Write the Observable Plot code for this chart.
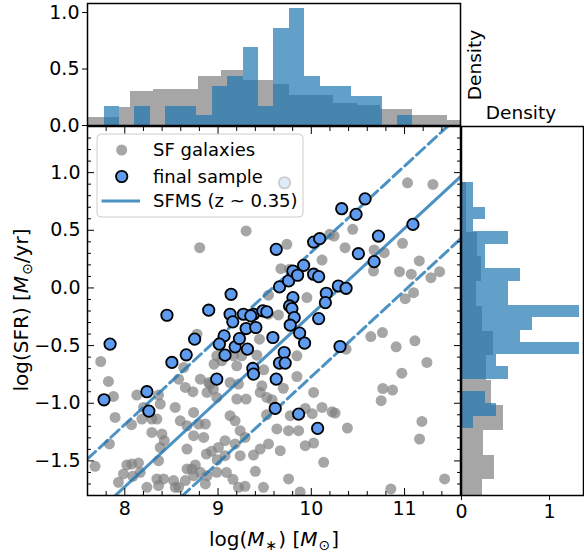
<!DOCTYPE html>
<html><head><meta charset="utf-8">
<script src="https://cdn.jsdelivr.net/npm/d3@7"></script>
<script src="https://cdn.jsdelivr.net/npm/@observablehq/plot@0.6"></script>
<style>
body{margin:0;background:#fff;}
#wrap{position:relative;width:584px;height:553px;overflow:hidden;font-family:"DejaVu Sans",sans-serif;}
#wrap > svg, #wrap > figure{position:absolute;margin:0;}
</style></head><body><div id="wrap"></div>
<script>
// ---------- data ----------
const sfMass = [8.803,7.742,7.825,7.878,7.896,7.835,7.681,8.022,8.075,8.147,7.986,7.932,8.086,8.165,8.129,8.201,8.183,8.290,8.344,8.380,8.362,8.290,8.398,8.423,8.362,8.344,8.362,8.416,8.523,8.541,8.649,8.667,8.720,8.756,8.810,8.631,8.577,8.649,8.541,8.595,8.667,8.738,8.792,8.864,8.738,8.846,8.667,8.380,8.774,8.810,8.900,8.882,8.875,8.882,8.864,8.738,8.577,8.237,8.072,8.730,
9.301,9.738,9.767,9.674,10.115,10.197,9.541,9.953,9.541,9.444,9.416,8.986,8.957,9.040,9.165,9.254,9.201,8.914,8.950,8.986,9.129,9.219,9.201,9.301,9.452,9.470,9.523,9.846,9.846,10.025,9.935,10.115,10.222,9.774,9.756,9.864,9.631,9.129,9.183,9.237,9.290,9.183,9.075,9.004,9.075,9.237,9.380,9.452,9.541,9.667,9.935,10.133,9.756,9.487,9.219,8.986,
9.648,9.490,9.700,9.580,9.520,10.010,10.025,9.880,9.767,8.930,8.990,9.090,9.160,9.290,9.400,
10.244,10.444,10.362,11.032,11.304,10.674,10.782,10.978,10.667,10.946,11.072,11.158,11.283,11.376,11.007,11.097,10.373,10.638,10.763,10.910,11.111,11.240,10.971,10.767,10.871,10.749,10.255,10.387,11.186,11.161,11.430,10.853];
const sfSFR = [0.349,-0.638,-0.811,-0.941,-1.123,-1.353,-1.547,-1.535,-1.527,-1.518,-1.613,-1.686,-1.634,-1.599,-0.929,-1.036,-1.137,-1.137,-1.137,-1.007,-0.929,-1.253,-1.267,-1.325,-1.498,-1.656,-1.714,-1.656,-1.671,-1.729,-1.671,-1.570,-1.570,-1.535,-1.599,-0.690,-0.791,-0.863,-1.036,-1.152,-1.195,-1.080,-1.180,-1.180,-1.281,-1.296,-1.397,-1.383,-0.401,-0.791,-0.820,-0.906,-1.440,-1.628,-1.700,-1.628,-1.729,-1.729,-1.186,-0.900,
0.494,0.378,0.162,0.167,0.242,0.465,-0.063,-0.084,-0.228,-0.444,-0.583,-0.589,-0.661,-0.632,-0.589,-0.589,-0.675,-0.834,-0.877,-0.950,-0.820,-0.834,-0.964,-0.964,-0.906,-0.849,-0.950,-0.589,-0.768,-0.906,-1.045,-1.036,-1.074,-1.108,-1.238,-1.238,-1.223,-1.108,-1.152,-1.238,-1.296,-1.353,-1.325,-1.383,-1.455,-1.455,-1.449,-1.397,-1.353,-1.411,-1.368,-1.512,-1.656,-1.729,-1.729,-1.599,
-0.234,-0.710,-0.870,-0.970,-1.100,-1.090,-1.345,-1.770,0.055,-1.417,-1.490,-1.600,-1.660,-1.720,-1.590,
0.450,0.508,0.349,0.912,0.898,0.329,0.306,0.387,0.147,0.141,0.119,0.234,0.089,0.141,-0.093,-0.041,-0.531,-0.422,-0.387,-0.511,-0.459,-0.646,-0.739,-0.872,-0.886,-0.978,-1.085,-1.215,-1.158,-1.310,-1.656,-1.743];

const finalMass = [7.842,7.777,8.452,8.505,8.659,8.749,8.237,8.258,8.900,
9.140,9.129,9.158,9.065,9.014,9.075,9.183,9.229,9.272,9.301,9.315,9.380,9.351,9.405,9.480,9.523,8.986,9.373,9.380,9.588,9.624,9.613,9.624,9.659,9.710,9.659,9.720,9.756,9.803,9.853,9.918,9.803,9.767,9.792,9.817,9.774,9.875,9.928,10.025,10.090,10.025,10.079,10.161,10.151,10.079,9.864,10.068,
10.326,10.480,10.577,11.090,10.720,10.505,10.674,10.290,10.373,10.308,9.713];
const finalSFR = [-0.487,-0.970,-0.237,-0.646,-0.580,-0.444,-0.900,-1.068,-0.193,
-0.055,-0.228,-0.294,-0.416,-0.487,-0.583,-0.511,-0.439,-0.228,-0.352,-0.531,-0.228,-0.242,-0.343,-0.199,-0.208,-0.791,-0.698,-0.747,-0.430,-0.791,-1.045,0.335,0.009,-0.560,-0.652,-0.652,0.061,0.147,0.110,0.196,-0.084,-0.156,-0.179,-0.257,-0.323,-0.392,-0.479,0.398,0.427,0.119,0.098,-0.046,-0.127,-0.266,-1.094,-1.218,
0.687,0.638,0.773,0.551,0.450,0.297,0.228,0.017,-0.003,-0.508,0.912];

// SFMS (z ~ 0.35) relation and its +/- scatter lines, end points
const sfmsMass  = [7.6, 11.6];
const sfmsSFR   = [-2.023, 0.965];
const sfmsUpper = [-1.483, 1.505];
const sfmsLower = [-2.563, 0.425];

// marginal histograms (density)
const topGrayEdges = [7.595,7.939,8.061,8.304,8.788,9.040,9.272,9.595,9.767,9.997,10.240,10.495,10.742,11.083,11.459,11.602];
const topGrayDens  = [0.068,0.163,0.305,0.316,0.432,0.488,0.400,0.360,0.267,0.266,0.195,0.180,0.139,0.089,0.044];
const topBlueEdges = [7.777,7.943,8.108,8.274,8.440,8.605,8.771,8.937,9.102,9.268,9.434,9.599,9.765,9.931,10.096,10.262,10.428,10.593,10.759,10.925,11.090];
const topBlueDens  = [0.172,0,0.172,0,0.172,0.172,0.086,0.345,0.431,0.690,0.172,0.862,1.035,0.431,0.345,0.345,0.259,0.259,0,0.086];
const rightGrayEdges = [-1.88,-1.665,-1.45,-1.235,-1.02,-0.805,-0.59,-0.375,-0.16,0.055,0.27,0.485,0.70,0.915];
const rightGrayDens  = [0.242,0.375,0.254,0.474,0.340,0.284,0.360,0.242,0.170,0.227,0.178,0.057,0.057];
const rightBlueEdges = [-1.218,-1.111,-1.005,-0.898,-0.792,-0.685,-0.579,-0.472,-0.366,-0.259,-0.153,-0.046,0.060,0.167,0.273,0.380,0.486,0.593,0.699,0.806,0.912];
const rightBlueDens  = [0.134,0.402,0.268,0,0.536,0.402,1.341,0.671,0.805,1.341,0.536,0.536,0.671,0.268,0.268,0.536,0.134,0.268,0.134,0.134];

// ticks and labels
const massTicks = [8, 9, 10, 11];
const sfrTicks = [-1.5, -1.0, -0.5, 0.0, 0.5, 1.0];
const topDensTicks = [0, 0.5, 1.0];
const rightDensTicks = [0, 1];
const legendLabels = ["SF galaxies", "final sample", "SFMS (z ~ 0.35)"];

// ---------- build tables ----------
const sf = sfMass.map((m, i) => ({m, s: sfSFR[i]}));
const fin = finalMass.map((m, i) => ({m, s: finalSFR[i]}));
const sfmsM = sfmsMass.map((m, i) => ({m, s: sfmsSFR[i]}));
const sfmsU = sfmsMass.map((m, i) => ({m, s: sfmsUpper[i]}));
const sfmsL = sfmsMass.map((m, i) => ({m, s: sfmsLower[i]}));
const bins = (edges, dens) => dens.map((d, i) => ({a: edges[i], b: edges[i + 1], d}));
const topGray = bins(topGrayEdges, topGrayDens);
const topBlue = bins(topBlueEdges, topBlueDens).filter(d => d.d > 0);
const rightGray = bins(rightGrayEdges, rightGrayDens);
const rightBlue = bins(rightBlueEdges, rightBlueDens).filter(d => d.d > 0);

const xDomain = [7.6, 11.6];
const yDomain = [-1.8, 1.4];
const minorMass = d3.range(76, 117, 2).map(v => v / 10).filter(v => !massTicks.includes(v));
const minorSFR = d3.range(-18, 15, 1).map(v => v / 10).filter(v => !sfrTicks.some(t => Math.abs(t - v) < 1e-9));

const GRAY = "#808080", BLUE = "#1f77b4", PT = "#5f9cef";
const baseStyle = {fontFamily: "DejaVu Sans", fontSize: "19px", color: "black", background: "transparent", overflow: "visible"};
const wrap = document.getElementById("wrap");

// ---------- main scatter ----------
const mainPlot = Plot.plot({
  width: 470, height: 433, marginLeft: 87, marginRight: 10, marginTop: 6, marginBottom: 58,
  style: baseStyle,
  x: {domain: xDomain},
  y: {domain: yDomain},
  marks: [
    Plot.dot(sf, {x: "m", y: "s", r: 5.5, fill: GRAY, fillOpacity: 0.7, stroke: null, clip: true}),
    Plot.line(sfmsM, {x: "m", y: "s", stroke: BLUE, strokeOpacity: 0.8, strokeWidth: 3, clip: true}),
    Plot.line(sfmsU, {x: "m", y: "s", stroke: BLUE, strokeOpacity: 0.8, strokeWidth: 3, strokeDasharray: "11,5", clip: true}),
    Plot.line(sfmsL, {x: "m", y: "s", stroke: BLUE, strokeOpacity: 0.8, strokeWidth: 3, strokeDasharray: "11,5", clip: true}),
    Plot.dot(fin, {x: "m", y: "s", r: 5.7, fill: PT, stroke: "black", strokeWidth: 1.8, clip: true}),
    Plot.axisX(massTicks, {anchor: "bottom", tickSize: 0, tickPadding: 6, label: null, tickFormat: d3.format("d")}),
    Plot.axisX(massTicks, {anchor: "bottom", tickSize: -7, fill: "none", label: null}),
    Plot.axisX(minorMass, {anchor: "bottom", tickSize: -4, fill: "none", label: null}),
    Plot.axisX(massTicks, {anchor: "top", tickSize: -7, fill: "none", label: null}),
    Plot.axisX(minorMass, {anchor: "top", tickSize: -4, fill: "none", label: null}),
    Plot.axisY(sfrTicks, {anchor: "left", tickSize: 0, tickPadding: 7, label: null, tickFormat: d3.format(".1f")}),
    Plot.axisY(sfrTicks, {anchor: "left", tickSize: -7, fill: "none", label: null}),
    Plot.axisY(minorSFR, {anchor: "left", tickSize: -4, fill: "none", label: null}),
    Plot.axisY(sfrTicks, {anchor: "right", tickSize: -7, fill: "none", label: null}),
    Plot.axisY(minorSFR, {anchor: "right", tickSize: -4, fill: "none", label: null}),
    Plot.frame({stroke: "black", strokeWidth: 1.5})
  ]
});
mainPlot.style.left = "0px"; mainPlot.style.top = "120px";
wrap.appendChild(mainPlot);

// ---------- top histogram ----------
const topHist = Plot.plot({
  width: 470, height: 126, marginLeft: 87, marginRight: 10, marginTop: 3, marginBottom: 1,
  style: baseStyle,
  x: {domain: xDomain, axis: null},
  y: {domain: [0, 1.08]},
  marks: [
    Plot.rectY(topGray, {x1: "a", x2: "b", y1: 0, y2: "d", fill: GRAY, fillOpacity: 0.7, shapeRendering: "crispEdges"}),
    Plot.rectY(topBlue, {x1: "a", x2: "b", y1: 0, y2: "d", fill: BLUE, fillOpacity: 0.7, shapeRendering: "crispEdges"}),
    Plot.axisY(topDensTicks, {anchor: "left", tickSize: 5, tickPadding: 3, label: null, tickFormat: d3.format(".1f")}),
    Plot.frame({stroke: "black", strokeWidth: 1.5})
  ]
});
topHist.style.left = "0px"; topHist.style.top = "0px";
wrap.appendChild(topHist);

// ---------- right histogram ----------
const rightHist = Plot.plot({
  width: 129, height: 433, marginLeft: 6, marginRight: 1, marginTop: 6, marginBottom: 58,
  style: baseStyle,
  x: {domain: [0, 1.386]},
  y: {domain: yDomain, axis: null},
  marks: [
    Plot.rectX(rightGray, {y1: "a", y2: "b", x1: 0, x2: "d", fill: GRAY, fillOpacity: 0.7, clip: true, shapeRendering: "crispEdges"}),
    Plot.rectX(rightBlue, {y1: "a", y2: "b", x1: 0, x2: "d", fill: BLUE, fillOpacity: 0.7, clip: true, shapeRendering: "crispEdges"}),
    Plot.axisX(rightDensTicks, {anchor: "bottom", tickSize: 5, tickPadding: 4, label: null, tickFormat: d3.format("d")}),
    Plot.frame({stroke: "black", strokeWidth: 1.5})
  ]
});
rightHist.style.left = "455px"; rightHist.style.top = "120px";
wrap.appendChild(rightHist);

// ---------- overlay: legend, axis labels ----------
const ov = d3.select(wrap).append("svg")
  .attr("width", 584).attr("height", 553)
  .style("left", "0px").style("top", "0px")
  .style("font-family", "DejaVu Sans").style("pointer-events", "none");

const lg = ov.append("g");
lg.append("rect").attr("x", 97).attr("y", 134).attr("width", 206).attr("height", 83)
  .attr("rx", 4).attr("fill", "white").attr("fill-opacity", 0.8).attr("stroke", "#cccccc").attr("stroke-width", 1);
lg.append("circle").attr("cx", 121.7).attr("cy", 150).attr("r", 5.5).attr("fill", GRAY).attr("fill-opacity", 0.7);
lg.append("circle").attr("cx", 121.7).attr("cy", 176.5).attr("r", 5.7).attr("fill", PT).attr("stroke", "black").attr("stroke-width", 1.8);
lg.append("line").attr("x1", 101.5).attr("x2", 140).attr("y1", 201).attr("y2", 201)
  .attr("stroke", BLUE).attr("stroke-opacity", 0.8).attr("stroke-width", 3);
legendLabels.forEach((t, i) => {
  lg.append("text").attr("x", 153).attr("y", [150, 176.5, 201][i]).attr("dy", "0.36em")
    .attr("font-size", 18).text(t);
});

// y label
const yl = ov.append("text").attr("transform", "translate(28,310) rotate(-90)")
  .attr("text-anchor", "middle").attr("font-size", 20);
yl.append("tspan").text("log(SFR) [");
yl.append("tspan").attr("font-style", "italic").text("M");
yl.append("tspan").attr("font-size", 14).attr("dy", 4).attr("dx", 1).text("\u2299");
yl.append("tspan").attr("dy", -4).text("/yr]");

// x label
const xl = ov.append("text").attr("x", 274).attr("y", 546)
  .attr("text-anchor", "middle").attr("font-size", 20);
xl.append("tspan").text("log(");
xl.append("tspan").attr("font-style", "italic").text("M");
xl.append("tspan").attr("font-size", 14).attr("dy", 4).attr("dx", 1).text("\u2217");
xl.append("tspan").attr("dy", -4).attr("dx", 1).text(") [");
xl.append("tspan").attr("font-style", "italic").text("M");
xl.append("tspan").attr("font-size", 14).attr("dy", 4).attr("dx", 1).text("\u2299");
xl.append("tspan").attr("dy", -4).attr("dx", 1).text("]");

// marginal axis labels
ov.append("text").attr("transform", "translate(481,65) rotate(-90)").attr("text-anchor", "middle")
  .attr("font-size", 18.5).text("Density");
ov.append("text").attr("x", 521).attr("y", 119).attr("text-anchor", "middle")
  .attr("font-size", 18.5).text("Density");
</script>
</body></html>
